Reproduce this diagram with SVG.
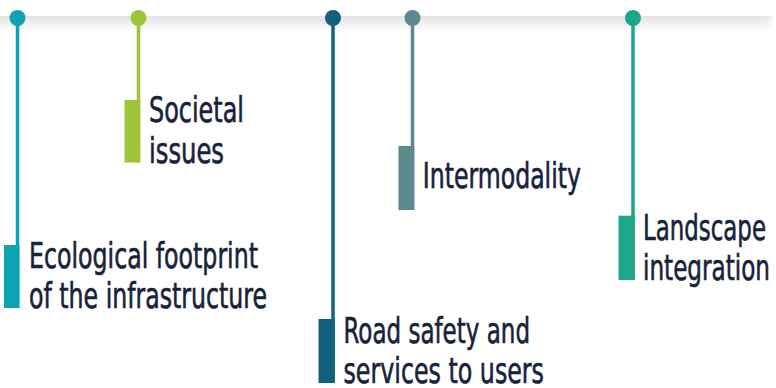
<svg xmlns="http://www.w3.org/2000/svg" width="776" height="388" viewBox="0 0 776 388">
<style>
.t{font-family:"Liberation Sans Narrow","DejaVu Sans Condensed","Liberation Sans",sans-serif;font-size:35px;fill:#17233a;stroke:#17233a;stroke-width:0.6;font-stretch:condensed}
.stem{stroke-width:3.5;fill:none}
</style>
<defs>
<linearGradient id="sh" x1="0" y1="0" x2="0" y2="1">
<stop offset="0" stop-color="#e3e3e3"/>
<stop offset="1" stop-color="#ffffff"/>
</linearGradient>
<linearGradient id="shr" x1="0" y1="0" x2="1" y2="0">
<stop offset="0" stop-color="#ffffff" stop-opacity="0"/>
<stop offset="1" stop-color="#ffffff" stop-opacity="1"/>
</linearGradient>
</defs>
<rect x="0" y="0" width="776" height="388" fill="#ffffff"/>
<rect x="0" y="16" width="773" height="16" fill="url(#sh)"/>
<rect x="766" y="16" width="10" height="16" fill="url(#shr)"/>
<g id="connectors">
<line class="stem" x1="17.5" y1="18" x2="17.5" y2="308" stroke="#0ea3b1"/>
<line class="stem" x1="138.5" y1="18" x2="138.5" y2="162.5" stroke="#9ec43a"/>
<line class="stem" x1="333" y1="18" x2="333" y2="383" stroke="#10607e"/>
<line class="stem" x1="412.5" y1="18" x2="412.5" y2="210" stroke="#5d8890"/>
<line class="stem" x1="633" y1="18" x2="633" y2="280" stroke="#1ba788"/>
</g>
<g id="node-ecological">
<circle cx="17.5" cy="18" r="8" fill="#0ea3b1"/>
<rect x="4" y="245" width="15.5" height="63" fill="#0ea3b1"/>
<text class="t" x="29" y="267.5" textLength="229" lengthAdjust="spacingAndGlyphs">Ecological footprint</text>
<text class="t" x="29" y="308" textLength="238" lengthAdjust="spacingAndGlyphs">of the infrastructure</text>
</g>
<g id="node-societal">
<circle cx="138.5" cy="18" r="8" fill="#9ec43a"/>
<rect x="124.5" y="100" width="15.75" height="62.5" fill="#9ec43a"/>
<text class="t" x="149" y="122" textLength="95" lengthAdjust="spacingAndGlyphs">Societal</text>
<text class="t" x="149" y="162.5" textLength="75" lengthAdjust="spacingAndGlyphs">issues</text>
</g>
<g id="node-road-safety">
<circle cx="333" cy="18" r="8" fill="#10607e"/>
<rect x="318.5" y="319" width="16.25" height="64" fill="#10607e"/>
<text class="t" x="343.5" y="342.5" textLength="186.5" lengthAdjust="spacingAndGlyphs">Road safety and</text>
<text class="t" x="343.5" y="382.5" textLength="200.5" lengthAdjust="spacingAndGlyphs">services to users</text>
</g>
<g id="node-intermodality">
<circle cx="412.5" cy="18" r="8" fill="#5d8890"/>
<rect x="398.5" y="146" width="15.75" height="64" fill="#5d8890"/>
<text class="t" x="422.7" y="188.3" textLength="158.3" lengthAdjust="spacingAndGlyphs">Intermodality</text>
</g>
<g id="node-landscape">
<circle cx="633" cy="18" r="8" fill="#1ba788"/>
<rect x="618.5" y="215.7" width="16.25" height="64.3" fill="#1ba788"/>
<text class="t" x="643" y="239.5" textLength="123" lengthAdjust="spacingAndGlyphs">Landscape</text>
<text class="t" x="643" y="280" textLength="127" lengthAdjust="spacingAndGlyphs">integration</text>
</g>
</svg>
